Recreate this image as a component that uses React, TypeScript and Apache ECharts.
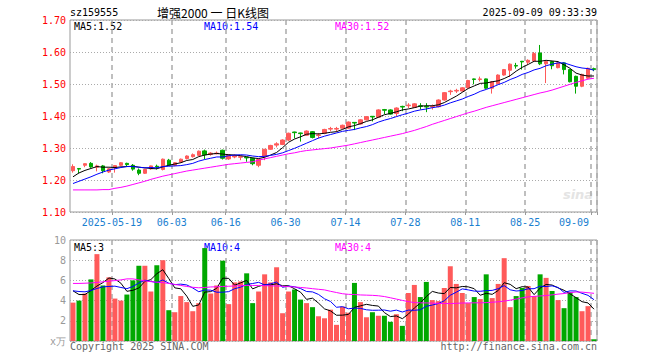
import React, { useEffect, useRef } from 'react';
import * as echarts from 'echarts';

const dates = [
  '2025-05-08','2025-05-09','2025-05-12','2025-05-13','2025-05-14','2025-05-15','2025-05-16',
  '2025-05-19','2025-05-20','2025-05-21','2025-05-22','2025-05-23',
  '2025-05-26','2025-05-27','2025-05-28','2025-05-29','2025-05-30',
  '2025-06-03','2025-06-04','2025-06-05','2025-06-06',
  '2025-06-09','2025-06-10','2025-06-11','2025-06-12','2025-06-13',
  '2025-06-16','2025-06-17','2025-06-18','2025-06-19','2025-06-20',
  '2025-06-23','2025-06-24','2025-06-25','2025-06-26','2025-06-27',
  '2025-06-30','2025-07-01','2025-07-02','2025-07-03','2025-07-04',
  '2025-07-07','2025-07-08','2025-07-09','2025-07-10','2025-07-11',
  '2025-07-14','2025-07-15','2025-07-16','2025-07-17','2025-07-18',
  '2025-07-21','2025-07-22','2025-07-23','2025-07-24','2025-07-25',
  '2025-07-28','2025-07-29','2025-07-30','2025-07-31','2025-08-01',
  '2025-08-04','2025-08-05','2025-08-06','2025-08-07','2025-08-08',
  '2025-08-11','2025-08-12','2025-08-13','2025-08-14','2025-08-15',
  '2025-08-18','2025-08-19','2025-08-20','2025-08-21','2025-08-22',
  '2025-08-25','2025-08-26','2025-08-27','2025-08-28','2025-08-29',
  '2025-09-01','2025-09-02','2025-09-03','2025-09-04','2025-09-05',
  '2025-09-08','2025-09-09',
];

const opens = [
  1.229,1.236,1.246,1.252,1.240,1.244,1.225,1.239,1.246,1.252,
  1.246,1.231,1.221,1.235,1.243,1.233,1.262,1.246,1.256,1.267,
  1.273,1.277,1.291,1.280,1.282,1.293,1.266,1.272,1.271,1.271,
  1.268,1.246,1.275,1.296,1.309,1.311,1.325,1.350,1.347,1.340,
  1.351,1.339,1.346,1.359,1.359,1.362,1.362,1.380,1.375,1.388,
  1.399,1.396,1.420,1.419,1.408,1.430,1.432,1.427,1.432,1.430,
  1.428,1.429,1.450,1.476,1.478,1.478,1.488,1.516,1.514,1.516,
  1.487,1.501,1.528,1.543,1.558,1.571,1.568,1.572,1.597,1.563,
  1.570,1.551,1.566,1.545,1.524,1.493,1.518,1.548,
];
const closes = [
  1.242,1.234,1.251,1.241,1.244,1.229,1.235,1.245,1.254,1.248,
  1.234,1.221,1.233,1.244,1.241,1.265,1.246,1.254,1.265,1.275,
  1.279,1.290,1.279,1.284,1.284,1.268,1.278,1.276,1.273,1.269,
  1.251,1.264,1.296,1.308,1.313,1.325,1.346,1.348,1.345,1.353,
  1.333,1.341,1.358,1.361,1.361,1.371,1.381,1.378,1.388,1.398,
  1.397,1.419,1.418,1.406,1.425,1.428,1.434,1.438,1.430,1.428,
  1.430,1.450,1.473,1.478,1.480,1.488,1.511,1.514,1.516,1.487,
  1.507,1.528,1.545,1.562,1.556,1.569,1.574,1.595,1.563,1.570,
  1.557,1.566,1.545,1.507,1.493,1.530,1.549,1.545,
];
const lows = [
  1.223,1.221,1.240,1.238,1.227,1.221,1.222,1.223,1.243,1.243,
  1.229,1.215,1.219,1.232,1.233,1.230,1.244,1.243,1.254,1.264,
  1.270,1.275,1.265,1.276,1.280,1.264,1.263,1.268,1.262,1.257,
  1.246,1.240,1.262,1.294,1.302,1.309,1.322,1.330,1.320,1.338,
  1.330,1.330,1.343,1.352,1.350,1.360,1.360,1.356,1.373,1.386,
  1.383,1.394,1.406,1.404,1.398,1.415,1.425,1.425,1.420,1.412,
  1.420,1.427,1.448,1.466,1.472,1.476,1.486,1.499,1.508,1.485,
  1.470,1.499,1.526,1.522,1.548,1.545,1.560,1.570,1.559,1.503,
  1.546,1.549,1.530,1.505,1.470,1.490,1.516,1.540,
];
const highs = [
  1.249,1.237,1.252,1.256,1.248,1.247,1.237,1.246,1.256,1.254,
  1.250,1.236,1.235,1.245,1.248,1.267,1.266,1.256,1.267,1.277,
  1.283,1.292,1.295,1.287,1.289,1.295,1.280,1.280,1.276,1.272,
  1.270,1.266,1.297,1.310,1.318,1.327,1.348,1.351,1.348,1.355,
  1.353,1.347,1.360,1.366,1.366,1.373,1.383,1.381,1.390,1.400,
  1.400,1.421,1.422,1.421,1.427,1.432,1.440,1.440,1.440,1.440,
  1.436,1.452,1.475,1.482,1.485,1.490,1.513,1.517,1.523,1.517,
  1.509,1.530,1.547,1.564,1.566,1.572,1.577,1.600,1.622,1.572,
  1.572,1.568,1.568,1.547,1.526,1.532,1.551,1.551,
];

const volumes = [
  3.8,4.0,4.7,6.1,8.6,5.5,6.3,4.2,4.0,4.6,
  6.0,7.45,7.45,4.9,7.5,8.0,3.05,2.85,4.45,3.85,
  2.95,3.75,9.2,4.7,5.5,7.95,3.65,5.8,5.9,6.7,
  3.75,4.9,6.6,5.8,7.3,2.75,4.9,5.1,4.1,3.75,
  3.35,2.45,2.25,3.1,1.6,3.4,2.8,5.75,3.85,2.35,
  2.85,2.5,2.5,1.9,2.65,1.5,4.75,5.55,4.35,5.85,
  4.05,3.95,5.25,7.4,5.65,4.75,3.75,4.35,4.15,6.6,
  4.25,5.65,8.2,3.35,4.45,5.25,5.45,4.45,6.6,6.25,
  4.95,4.05,3.25,4.85,4.35,2.95,3.45,0.17,
];

const ma5 = [
  1.210,1.222,1.230,1.236,1.242,1.240,1.240,1.239,1.241,1.242,
  1.243,1.240,1.238,1.236,1.235,1.241,1.246,1.250,1.254,1.261,
  1.264,1.273,1.278,1.281,1.283,1.281,1.279,1.278,1.276,1.273,
  1.269,1.267,1.271,1.278,1.286,1.301,1.318,1.328,1.335,1.343,
  1.345,1.344,1.346,1.349,1.351,1.358,1.366,1.370,1.376,1.383,
  1.388,1.396,1.404,1.408,1.413,1.419,1.422,1.426,1.431,1.432,
  1.432,1.435,1.442,1.452,1.462,1.474,1.486,1.494,1.502,1.503,
  1.507,1.510,1.517,1.526,1.540,1.552,1.561,1.571,1.571,1.574,
  1.572,1.570,1.560,1.549,1.534,1.528,1.525,1.525,
];
const ma10 = [
  1.189,1.196,1.203,1.210,1.218,1.225,1.231,1.235,1.239,1.242,
  1.242,1.240,1.238,1.239,1.238,1.242,1.243,1.244,1.245,1.248,
  1.252,1.259,1.264,1.268,1.272,1.272,1.276,1.278,1.279,1.278,
  1.275,1.273,1.274,1.277,1.280,1.285,1.292,1.299,1.307,1.315,
  1.323,1.331,1.337,1.342,1.347,1.352,1.355,1.358,1.363,1.367,
  1.373,1.381,1.387,1.392,1.398,1.404,1.409,1.415,1.419,1.422,
  1.426,1.429,1.434,1.441,1.447,1.453,1.461,1.468,1.477,1.483,
  1.490,1.498,1.505,1.514,1.521,1.530,1.536,1.544,1.549,1.557,
  1.562,1.566,1.566,1.560,1.554,1.550,1.548,1.543,
];
const ma30 = [
  1.169,1.169,1.169,1.169,1.169,1.170,1.170,1.174,1.177,1.181,
  1.186,1.191,1.196,1.202,1.207,1.212,1.216,1.220,1.224,1.228,
  1.231,1.234,1.237,1.240,1.243,1.246,1.249,1.251,1.253,1.255,
  1.257,1.262,1.266,1.270,1.274,1.278,1.282,1.285,1.289,1.292,
  1.294,1.296,1.298,1.300,1.303,1.306,1.309,1.313,1.317,1.321,
  1.325,1.329,1.333,1.337,1.341,1.345,1.350,1.355,1.361,1.367,
  1.374,1.380,1.386,1.392,1.398,1.404,1.410,1.415,1.421,1.427,
  1.432,1.437,1.442,1.447,1.452,1.457,1.462,1.467,1.472,1.476,
  1.481,1.487,1.493,1.499,1.505,1.510,1.515,1.518,
];

const volMa5 = [
  4.97,4.6,4.6,5.0,5.44,5.78,6.24,6.14,5.72,4.92,
  5.02,5.25,5.9,6.08,6.66,7.06,6.18,5.26,5.17,4.44,
  3.43,3.57,4.84,4.89,5.22,6.22,6.2,5.52,5.76,6.0,
  5.16,5.41,5.57,5.55,5.67,5.47,5.47,5.17,4.83,4.12,
  4.24,3.75,3.18,2.98,2.55,2.56,2.63,3.33,3.48,3.63,
  3.52,3.46,2.81,2.42,2.48,2.21,2.66,3.27,3.76,4.4,
  4.91,4.75,4.69,5.3,5.26,5.4,5.36,5.18,4.53,4.72,
  4.62,5.0,5.77,5.61,5.18,5.38,5.34,4.59,5.24,5.6,
  5.54,5.26,5.02,4.67,4.29,3.89,3.77,3.15,
];
const volMa10 = [
  4.97,4.9,4.87,5.0,5.2,5.36,5.4,5.43,5.3,5.18,
  5.4,5.75,6.02,5.9,5.79,6.04,5.72,5.58,5.63,5.55,
  5.25,4.88,5.05,5.03,4.83,4.83,4.89,5.18,5.33,5.61,
  5.69,5.81,5.55,5.66,5.84,5.32,5.44,5.37,5.19,4.9,
  4.86,4.61,4.18,3.91,3.34,3.4,3.19,3.26,3.23,3.09,
  3.04,3.05,3.07,2.95,3.06,2.87,3.06,3.04,3.09,3.44,
  3.56,3.71,3.98,4.53,4.83,5.16,5.06,4.94,4.92,4.99,
  5.01,5.18,5.48,5.07,4.95,5.0,5.17,5.18,5.43,5.39,
  5.46,5.3,4.81,4.96,4.95,4.72,4.52,4.09,
];
const volMa30 = [
  5.70,5.70,5.72,5.75,5.80,5.86,5.92,5.98,6.05,6.15,
  6.15,6.05,5.95,5.88,5.82,5.78,5.70,5.60,5.50,5.40,
  5.32,5.27,5.30,5.35,5.37,5.40,5.42,5.45,5.48,5.50,
  5.50,5.50,5.48,5.46,5.45,5.42,5.38,5.35,5.30,5.25,
  5.18,5.12,5.06,4.92,4.80,4.68,4.62,4.60,4.56,4.54,
  4.52,4.48,4.40,4.28,4.15,4.02,3.90,3.80,3.78,3.77,
  3.75,3.73,3.71,3.71,3.73,3.76,3.77,3.78,3.78,3.80,
  3.84,3.88,3.95,4.04,4.15,4.27,4.37,4.42,4.46,4.50,
  4.57,4.64,4.70,4.78,4.85,4.84,4.78,4.72,
];

const tickDates = ['2025-05-19','2025-06-03','2025-06-16','2025-06-30','2025-07-14','2025-07-28','2025-08-11','2025-08-25','2025-09-09'];
const tickLabels = ['2025-05-19','06-03','06-16','06-30','07-14','07-28','08-11','08-25','09-09'];
const priceYTicks = ['1.10','1.20','1.30','1.40','1.50','1.60','1.70'];

const codeText = 'sz159555';
const titleText = '增强2000 一 日K线图';
const timeText = '2025-09-09 09:33:39';
const priceMaTexts = ['MA5:1.52', 'MA10:1.54', 'MA30:1.52'];
const volMaTexts = ['MA5:3', 'MA10:4', 'MA30:4'];
const copyText = 'Copyright 2025 SINA.COM';
const urlText = 'http://finance.sina.com.cn';

const UP = '#ff5a5a';
const DOWN = '#00a800';
const C5 = '#000000';
const C10 = '#0000ff';
const C30 = '#ff00ff';
const MONO = "'DejaVu Sans Mono', 'Liberation Mono', monospace";

export default function App() {
  const ref = useRef<HTMLDivElement>(null);
  useEffect(() => {
    if (!ref.current) return;
    const chart = echarts.init(ref.current, undefined, { renderer: 'svg' });
    const isTick = (_i: number, v: string) => tickDates.indexOf(v) >= 0;
    const candleData = dates.map((_, i) => [opens[i], closes[i], lows[i], highs[i]]);
    const volData = volumes.map((v, i) => ({
      value: v,
      itemStyle: { color: closes[i] >= opens[i] ? UP : DOWN },
    }));
    const vSplit = { show: true, interval: isTick, lineStyle: { color: '#aaaaaa', width: 1.5, type: [5, 4] } };
    const hSplit = { show: true, lineStyle: { color: '#aaaaaa', width: 1, type: [1, 2] } };
    const line = (data: number[], color: string, xi: number) => ({
      type: 'line', xAxisIndex: xi, yAxisIndex: xi, data, symbol: 'none', showSymbol: false,
      lineStyle: { color, width: 1 }, z: 5, silent: true,
    });
    const txt = (text: string, x: number, y: number, fill: string, align = 'left', extra: any = {}) => ({
      type: 'text', x, y, silent: true,
      style: { text, fill, fontFamily: MONO, fontSize: 10, textAlign: align, textVerticalAlign: 'middle', ...extra },
    });
    const option: any = {
      animation: false,
      backgroundColor: '#ffffff',
      grid: [
        { left: 70, right: 63, top: 20, height: 192, show: true, borderColor: '#999999', borderWidth: 1, backgroundColor: 'transparent' },
        { left: 70, right: 63, top: 240, height: 101, show: true, borderColor: '#999999', borderWidth: 1, backgroundColor: 'transparent' },
      ],
      xAxis: [
        {
          type: 'category', gridIndex: 0, data: dates, boundaryGap: true,
          axisLine: { show: false },
          axisTick: { show: true, interval: isTick, length: 3, lineStyle: { color: '#999999' } },
          axisLabel: {
            show: true, interval: isTick, color: '#1a80d0', fontFamily: MONO, fontSize: 10, margin: 5,
            padding: [0, 6, 0, 0],
            formatter: (v: string) => {
              const k = tickDates.indexOf(v);
              if (k < 0) return '';
              return k === tickDates.length - 1 ? `{e|${tickLabels[k]}}` : tickLabels[k];
            },
            rich: { e: { padding: [0, 34, 0, 0], color: '#1a80d0', fontFamily: MONO, fontSize: 10 } },
          },
          splitLine: vSplit,
        },
        {
          type: 'category', gridIndex: 1, data: dates, boundaryGap: true,
          axisLine: { show: false }, axisTick: { show: false }, axisLabel: { show: false },
          splitLine: vSplit,
        },
      ],
      yAxis: [
        {
          type: 'value', gridIndex: 0, min: 1.1, max: 1.7, interval: 0.1, scale: true,
          axisLine: { show: false }, axisTick: { show: false },
          axisLabel: {
            color: '#ff0000', fontFamily: MONO, fontSize: 10, margin: 4,
            formatter: (v: number) => priceYTicks[Math.round((v - 1.1) * 10)] ?? v.toFixed(2),
          },
          splitLine: hSplit,
        },
        {
          type: 'value', gridIndex: 1, min: 0, max: 10, interval: 2,
          axisLine: { show: false }, axisTick: { show: false },
          axisLabel: {
            color: '#999999', fontFamily: MONO, fontSize: 10, margin: 4,
            formatter: (v: number) => (v === 0 ? 'x万' : String(v)),
          },
          splitLine: hSplit,
        },
      ],
      series: [
        {
          type: 'candlestick', xAxisIndex: 0, yAxisIndex: 0, data: candleData, barWidth: 4, silent: true,
          itemStyle: { color: UP, color0: DOWN, borderColor: UP, borderColor0: DOWN, borderWidth: 1 },
          z: 3,
        },
        line(ma5, C5, 0),
        line(ma10, C10, 0),
        line(ma30, C30, 0),
        { type: 'bar', xAxisIndex: 1, yAxisIndex: 1, data: volData, barWidth: 5, silent: true, z: 3 },
        line(volMa5, C5, 1),
        line(volMa10, C10, 1),
        line(volMa30, C30, 1),
      ],
      graphic: [
        txt(codeText, 70, 12, '#000000'),
        txt(titleText, 213, 12, '#000000', 'center', { fontFamily: "'Noto Sans CJK SC', sans-serif", fontSize: 12 }),
        txt(timeText, 597, 12, '#000000', 'right'),
        txt(priceMaTexts[0], 74, 26, C5),
        txt(priceMaTexts[1], 204, 26, C10),
        txt(priceMaTexts[2], 335, 26, C30),
        txt(volMaTexts[0], 74, 247, C5),
        txt(volMaTexts[1], 204, 247, C10),
        txt(volMaTexts[2], 335, 247, C30),
        txt(copyText, 70, 346, '#666666'),
        txt(urlText, 597, 346, '#666666', 'right'),
        txt('sina', 578, 194, '#e4e4e4', 'center', { fontFamily: 'Verdana, DejaVu Sans, sans-serif', fontSize: 13, fontWeight: 'bold', fontStyle: 'italic' }),
      ],
    };
    chart.setOption(option);
    return () => chart.dispose();
  }, []);
  return (
    <div
      ref={ref}
      style={{ position: 'absolute', left: 0, top: 0, width: 660, height: 360, background: '#ffffff' }}
    />
  );
}
